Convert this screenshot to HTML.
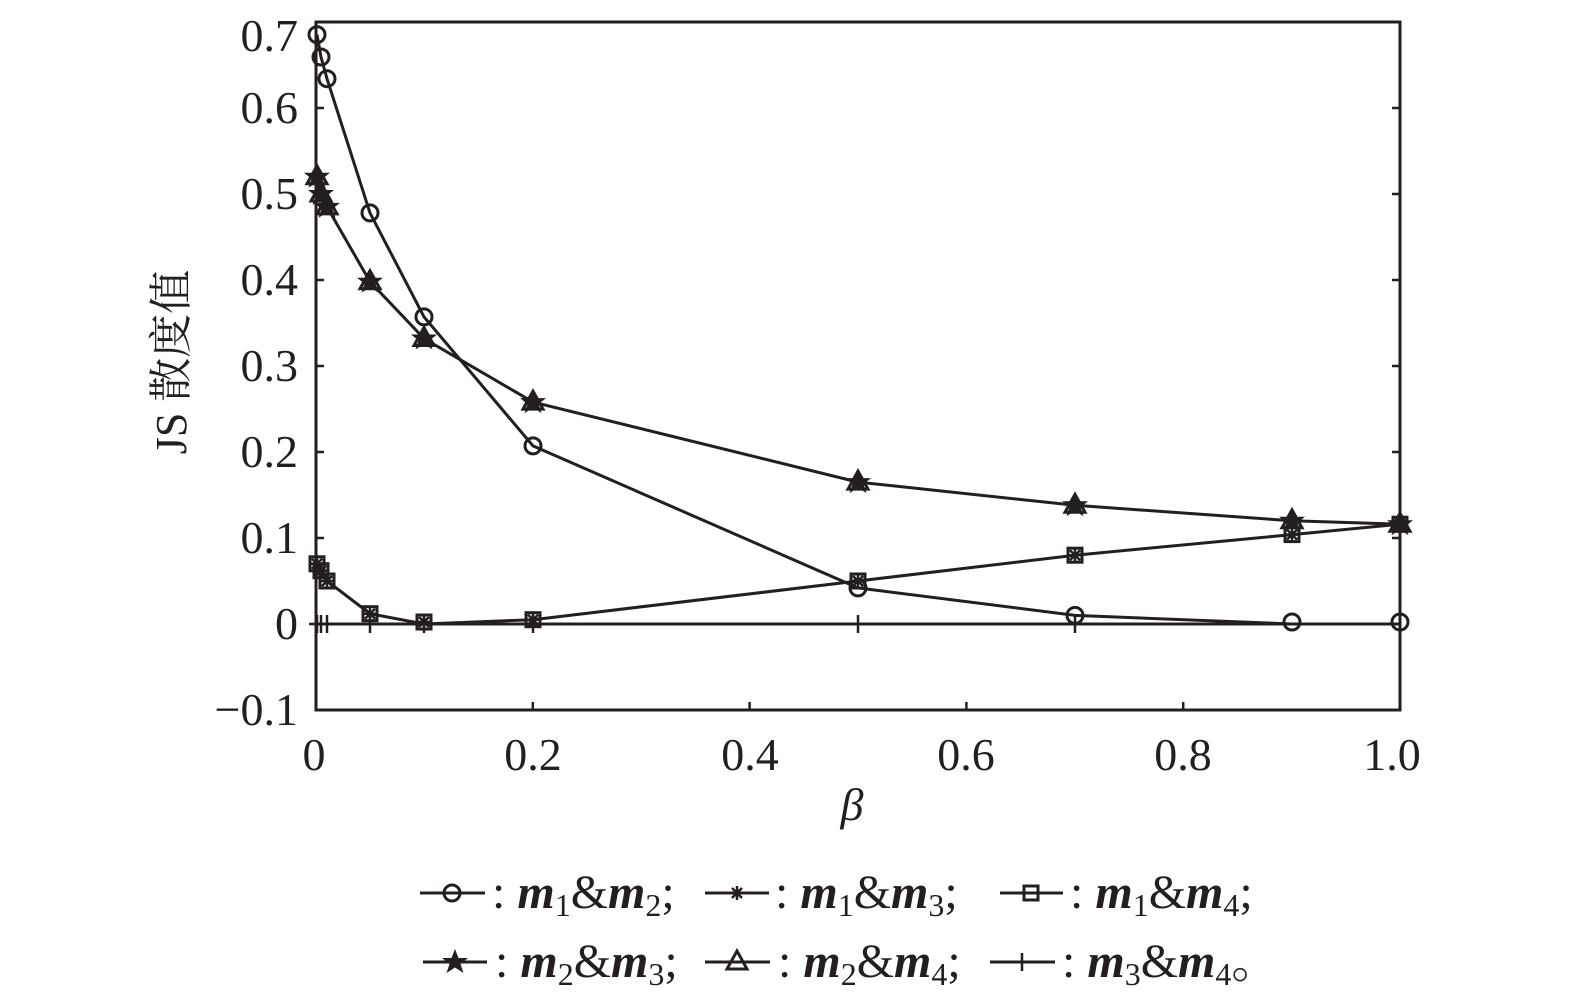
<!DOCTYPE html>
<html><head><meta charset="utf-8"><style>
html,body{margin:0;padding:0;background:#fff;}
svg{display:block;}
text{font-family:"Liberation Serif","Noto Serif CJK SC",serif;fill:#231f20;}
</style></head><body>
<svg width="1575" height="1002" viewBox="0 0 1575 1002" xmlns="http://www.w3.org/2000/svg">
<defs>
<g id="circ"><circle r="8" fill="none" stroke="#231f20" stroke-width="3"/></g>
<g id="star"><polygon points="0,-13 3.5,-4 13,-4 5.5,2 8.5,11 0,5.5 -8.5,11 -5.5,2 -13,-4 -3.5,-4" fill="#231f20"/></g>
<g id="tri"><polygon points="0,-11 10,7 -10,7" fill="none" stroke="#231f20" stroke-width="3"/></g>
<g id="sq"><rect x="-7" y="-7" width="14" height="14" fill="none" stroke="#231f20" stroke-width="3"/></g>
<g id="ast"><path d="M-7,0H7M0,-7V7M-5,-5L5,5M-5,5L5,-5" stroke="#231f20" stroke-width="2.5"/></g>
<g id="plus"><path d="M-8,0H8M0,-9V9" stroke="#231f20" stroke-width="2.5"/></g>
</defs>
<rect x="316" y="22" width="1084" height="688" fill="none" stroke="#231f20" stroke-width="3"/>
<g stroke="#231f20" stroke-width="2.5">
<path d="M316,108h8M316,194h8M316,280h8M316,366h8M316,452h8M316,538h8M316,624h8M316,22h8"/>
<path d="M1400,108h-8M1400,194h-8M1400,280h-8M1400,366h-8M1400,452h-8M1400,538h-8M1400,624h-8"/>
<path d="M532.8,710v-8M749.6,710v-8M966.4,710v-8M1183.2,710v-8"/>
</g>
<g font-size="46" text-anchor="end">
<text x="298" y="51">0.7</text>
<text x="298" y="123">0.6</text>
<text x="298" y="209">0.5</text>
<text x="298" y="295">0.4</text>
<text x="298" y="381">0.3</text>
<text x="298" y="467">0.2</text>
<text x="298" y="553">0.1</text>
<text x="298" y="639">0</text>
<text x="298" y="725">−0.1</text>
</g>
<g font-size="46" text-anchor="middle">
<text x="314" y="770">0</text>
<text x="533" y="770">0.2</text>
<text x="750" y="770">0.4</text>
<text x="966" y="770">0.6</text>
<text x="1183" y="770">0.8</text>
<text x="1392" y="770">1.0</text>
</g>
<text x="852" y="820" font-size="46" font-style="italic" text-anchor="middle">β</text>
<text transform="translate(186,362) rotate(-90)" font-size="44" text-anchor="middle">JS 散度值</text>
<g fill="none" stroke="#231f20" stroke-width="3">
<polyline points="317,34.6 321,57 327,78.7 370,212.9 424,316.9 533,445.9 858,587.9 1075,615.4 1292,624 1400,624"/>
<polyline points="317,176.8 321,194 327,206.9 370,281.7 424,338.5 533,402.1 858,482.1 1075,505.3 1292,520.8 1400,524.2"/>
<polyline points="317,563.8 321,570.7 327,581 370,613.7 424,624 533,619.7 858,581 1075,555.2 1292,534.6 1400,524.2"/>
<polyline points="317,624 1400,624"/>
</g>
<g>
<use href="#circ" x="317" y="34.6"/><use href="#circ" x="321" y="57"/><use href="#circ" x="327" y="78.7"/><use href="#circ" x="370" y="212.9"/><use href="#circ" x="424" y="316.9"/><use href="#circ" x="533" y="445.9"/><use href="#circ" x="858" y="587.9"/><use href="#circ" x="1075" y="615.4"/><use href="#circ" x="1292" y="622"/><use href="#circ" x="1400" y="622"/>
<use href="#star" x="317" y="176.8"/><use href="#star" x="321" y="194"/><use href="#star" x="327" y="206.9"/><use href="#star" x="370" y="281.7"/><use href="#star" x="424" y="338.5"/><use href="#star" x="533" y="402.1"/><use href="#star" x="858" y="482.1"/><use href="#star" x="1075" y="505.3"/><use href="#star" x="1292" y="520.8"/><use href="#star" x="1400" y="524.2"/>
<use href="#tri" x="317" y="176.8"/><use href="#tri" x="321" y="194"/><use href="#tri" x="327" y="206.9"/><use href="#tri" x="370" y="281.7"/><use href="#tri" x="424" y="338.5"/><use href="#tri" x="533" y="402.1"/><use href="#tri" x="858" y="482.1"/><use href="#tri" x="1075" y="505.3"/><use href="#tri" x="1292" y="520.8"/><use href="#tri" x="1400" y="524.2"/>
<use href="#sq" x="317" y="563.8"/><use href="#sq" x="321" y="570.7"/><use href="#sq" x="327" y="581"/><use href="#sq" x="370" y="613.7"/><use href="#sq" x="424" y="622"/><use href="#sq" x="533" y="619.7"/><use href="#sq" x="858" y="581"/><use href="#sq" x="1075" y="555.2"/><use href="#sq" x="1292" y="534.6"/><use href="#sq" x="1400" y="524.2"/>
<use href="#ast" x="317" y="563.8"/><use href="#ast" x="321" y="570.7"/><use href="#ast" x="327" y="581"/><use href="#ast" x="370" y="613.7"/><use href="#ast" x="424" y="622"/><use href="#ast" x="533" y="619.7"/><use href="#ast" x="858" y="581"/><use href="#ast" x="1075" y="555.2"/><use href="#ast" x="1292" y="534.6"/><use href="#ast" x="1400" y="524.2"/>
<use href="#plus" x="317" y="624"/><use href="#plus" x="321" y="624"/><use href="#plus" x="327" y="624"/><use href="#plus" x="370" y="624"/><use href="#plus" x="424" y="624"/><use href="#plus" x="533" y="624"/><use href="#plus" x="858" y="624"/><use href="#plus" x="1075" y="624"/>
</g>
<g stroke="#231f20" stroke-width="3">
<path d="M420,893h65M705,893h64M1000,893h63M423,962h64M705,962h65M990,962h65"/>
</g>
<use href="#circ" x="452" y="893"/>
<use href="#ast" x="737" y="893"/>
<use href="#sq" x="1031" y="893"/>
<use href="#star" x="455" y="962"/>
<use href="#tri" x="737" y="962"/>
<use href="#plus" x="1022" y="962"/>
<g font-size="48">
<text x="492" y="908">: <tspan font-style="italic" font-weight="bold">m</tspan><tspan font-size="32" dy="8">1</tspan><tspan dy="-8">&amp;</tspan><tspan font-style="italic" font-weight="bold">m</tspan><tspan font-size="32" dy="8">2</tspan><tspan dy="-8">;</tspan></text>
<text x="775" y="908">: <tspan font-style="italic" font-weight="bold">m</tspan><tspan font-size="32" dy="8">1</tspan><tspan dy="-8">&amp;</tspan><tspan font-style="italic" font-weight="bold">m</tspan><tspan font-size="32" dy="8">3</tspan><tspan dy="-8">;</tspan></text>
<text x="1070" y="908">: <tspan font-style="italic" font-weight="bold">m</tspan><tspan font-size="32" dy="8">1</tspan><tspan dy="-8">&amp;</tspan><tspan font-style="italic" font-weight="bold">m</tspan><tspan font-size="32" dy="8">4</tspan><tspan dy="-8">;</tspan></text>
<text x="495" y="977">: <tspan font-style="italic" font-weight="bold">m</tspan><tspan font-size="32" dy="8">2</tspan><tspan dy="-8">&amp;</tspan><tspan font-style="italic" font-weight="bold">m</tspan><tspan font-size="32" dy="8">3</tspan><tspan dy="-8">;</tspan></text>
<text x="778" y="977">: <tspan font-style="italic" font-weight="bold">m</tspan><tspan font-size="32" dy="8">2</tspan><tspan dy="-8">&amp;</tspan><tspan font-style="italic" font-weight="bold">m</tspan><tspan font-size="32" dy="8">4</tspan><tspan dy="-8">;</tspan></text>
<text x="1062" y="977">: <tspan font-style="italic" font-weight="bold">m</tspan><tspan font-size="32" dy="8">3</tspan><tspan dy="-8">&amp;</tspan><tspan font-style="italic" font-weight="bold">m</tspan><tspan font-size="32" dy="8">4</tspan><tspan dy="-8">。</tspan></text>
</g>
</svg>
</body></html>
